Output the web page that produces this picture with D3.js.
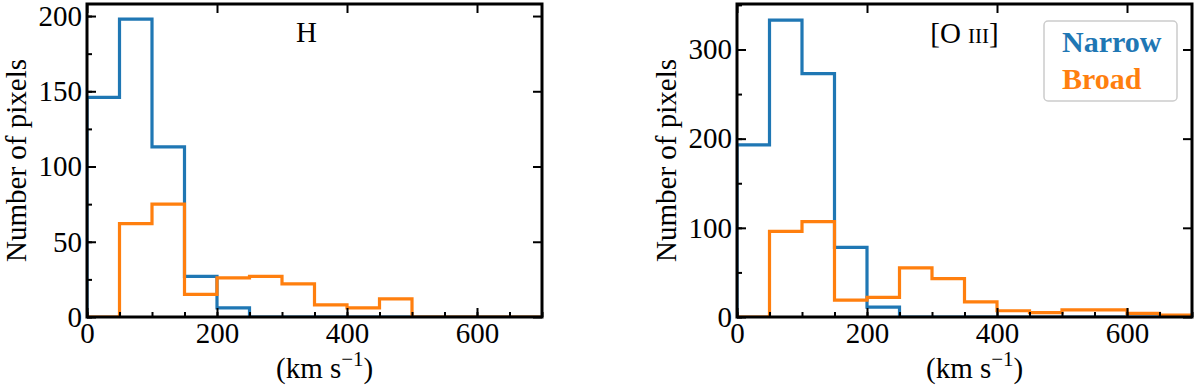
<!DOCTYPE html>
<html>
<head>
<meta charset="utf-8">
<script src="https://cdn.jsdelivr.net/npm/d3@7"></script>
<style>
  body { margin: 0; background: #fff; }
  svg text { font-family: "Liberation Serif", "Times New Roman", serif; }
</style>
</head>
<body>
<div id="chart"></div>
<script>
// bin edges shared by both histograms (km/s)
const binEdges = [0, 50, 100, 150, 200, 250, 300, 350, 400, 450, 500, 550, 600, 650, 700];

// H panel counts
const hNarrow = [146, 198, 113, 27, 6, 0, 0, 0, 0, 0, 0, 0, 0, 0];
const hBroad  = [0, 62, 75, 15, 26, 27, 22, 8, 6, 12, 0, 0, 0, 0];

// [O III] panel counts
const oNarrow = [193, 333, 273, 78, 11, 0, 0, 0, 0, 0, 0, 0, 0, 0];
const oBroad  = [0, 96, 107, 19, 22, 55, 43, 17, 7, 5, 8, 8, 4, 2];

// ticks
const xMajor = [0, 200, 400, 600];
const xMinor = d3.range(0, 701, 50);
const hYMajor = [0, 50, 100, 150, 200];
const hYMinor = d3.range(0, 201, 25);
const oYMajor = [0, 100, 200, 300];
const oYMinor = d3.range(0, 351, 50);

const seriesNames = ["Narrow", "Broad"];
const colors = { Narrow: "#1f77b4", Broad: "#ff7f0e" };

// panel geometry
const panelW = 455, panelH = 313, panelTop = 4;
const fontSize = 29;

const svg = d3.select("#chart")
    .append("svg")
    .attr("width", 1200)
    .attr("height", 387);

function drawPanel({ left, narrow, broad, yMax, yMajor, yMinor, id }) {
    const g = svg.append("g")
        .attr("transform", "translate(" + left + "," + panelTop + ")");

    const x = d3.scaleLinear().domain([0, 700]).range([0, panelW]);
    const y = d3.scaleLinear().domain([0, yMax]).range([panelH, 0]);

    g.append("clipPath").attr("id", "clip-" + id)
        .append("rect").attr("width", panelW).attr("height", panelH);

    // step outline like matplotlib histtype='step'
    function stepPoints(counts) {
        const pts = [[binEdges[0], 0]];
        counts.forEach((c, i) => {
            pts.push([binEdges[i], c]);
            pts.push([binEdges[i + 1], c]);
        });
        pts.push([binEdges[counts.length], 0]);
        return pts;
    }
    const line = d3.line()
        .x(d => x(d[0]))
        .y(d => y(d[1]));

    const plot = g.append("g").attr("clip-path", "url(#clip-" + id + ")");
    [["Narrow", narrow], ["Broad", broad]].forEach(([name, counts]) => {
        plot.append("path")
            .datum(stepPoints(counts))
            .attr("fill", "none")
            .attr("stroke", colors[name])
            .attr("stroke-width", 3.2)
            .attr("d", line);
    });

    // ticks, pointing inward
    const bottomMajor = g.append("g")
        .attr("transform", "translate(0," + panelH + ")")
        .call(d3.axisBottom(x).tickValues(xMajor).tickSize(-9).tickPadding(6).tickFormat(d3.format("d")));
    g.append("g")
        .attr("transform", "translate(0," + panelH + ")")
        .call(d3.axisBottom(x).tickValues(xMinor).tickSize(-5).tickFormat(""));
    g.append("g")
        .call(d3.axisTop(x).tickValues(xMajor).tickSize(-9).tickFormat(""));
    g.append("g")
        .call(d3.axisLeft(y).tickValues(yMajor).tickSize(-9).tickPadding(5).tickFormat(d3.format("d")));
    g.append("g")
        .call(d3.axisLeft(y).tickValues(yMinor).tickSize(-5).tickFormat(""));
    g.append("g")
        .attr("transform", "translate(" + panelW + ",0)")
        .call(d3.axisRight(y).tickValues(yMajor).tickSize(-9).tickFormat(""));

    g.selectAll(".domain").remove();
    g.selectAll(".tick line").attr("stroke", "#000").attr("stroke-width", 2);
    g.selectAll(".tick text")
        .attr("fill", "#000")
        .style("font-size", fontSize + "px");
    bottomMajor.selectAll(".tick text").attr("dy", "0.7em");

    // frame
    g.append("rect")
        .attr("width", panelW)
        .attr("height", panelH)
        .attr("fill", "none")
        .attr("stroke", "#000")
        .attr("stroke-width", 3);

    // y label
    g.append("text")
        .attr("transform", "translate(-61," + (panelH / 2) + ") rotate(-90)")
        .attr("text-anchor", "middle")
        .style("font-size", fontSize + "px")
        .text("Number of pixels");

    // x label
    const xl = g.append("text")
        .attr("x", 189)
        .attr("y", 374)
        .style("font-size", fontSize + "px");
    xl.append("tspan").text("(km s");
    xl.append("tspan").attr("dy", -12).style("font-size", "21px").text("\u22121");
    xl.append("tspan").attr("dy", 12).text(")");

    return { g, x, y };
}

const left = drawPanel({ left: 87, narrow: hNarrow, broad: hBroad, yMax: 208, yMajor: hYMajor, yMinor: hYMinor, id: "h" });
const right = drawPanel({ left: 737, narrow: oNarrow, broad: oBroad, yMax: 351, yMajor: oYMajor, yMinor: oYMinor, id: "o" });

// panel titles
left.g.append("text")
    .attr("x", panelW / 2 - 8)
    .attr("y", 38)
    .attr("text-anchor", "middle")
    .style("font-size", "29px")
    .text("H");

const t = right.g.append("text")
    .attr("x", panelW / 2)
    .attr("y", 39)
    .attr("text-anchor", "middle")
    .style("font-size", "29px");
t.append("tspan").text("[O ");
t.append("tspan").style("font-size", "21px").text("III");
t.append("tspan").text("]");

// legend
const legend = right.g.append("g").attr("transform", "translate(307,17)");
legend.append("rect")
    .attr("width", 133)
    .attr("height", 80)
    .attr("rx", 4)
    .attr("fill", "#fff")
    .attr("fill-opacity", 0.8)
    .attr("stroke", "#cccccc")
    .attr("stroke-width", 1.5);
seriesNames.forEach((name, i) => {
    legend.append("text")
        .attr("x", 18)
        .attr("y", 31 + i * 37)
        .attr("fill", colors[name])
        .style("font-size", "30px")
        .style("font-weight", "bold")
        .text(name);
});
</script>
</body>
</html>
